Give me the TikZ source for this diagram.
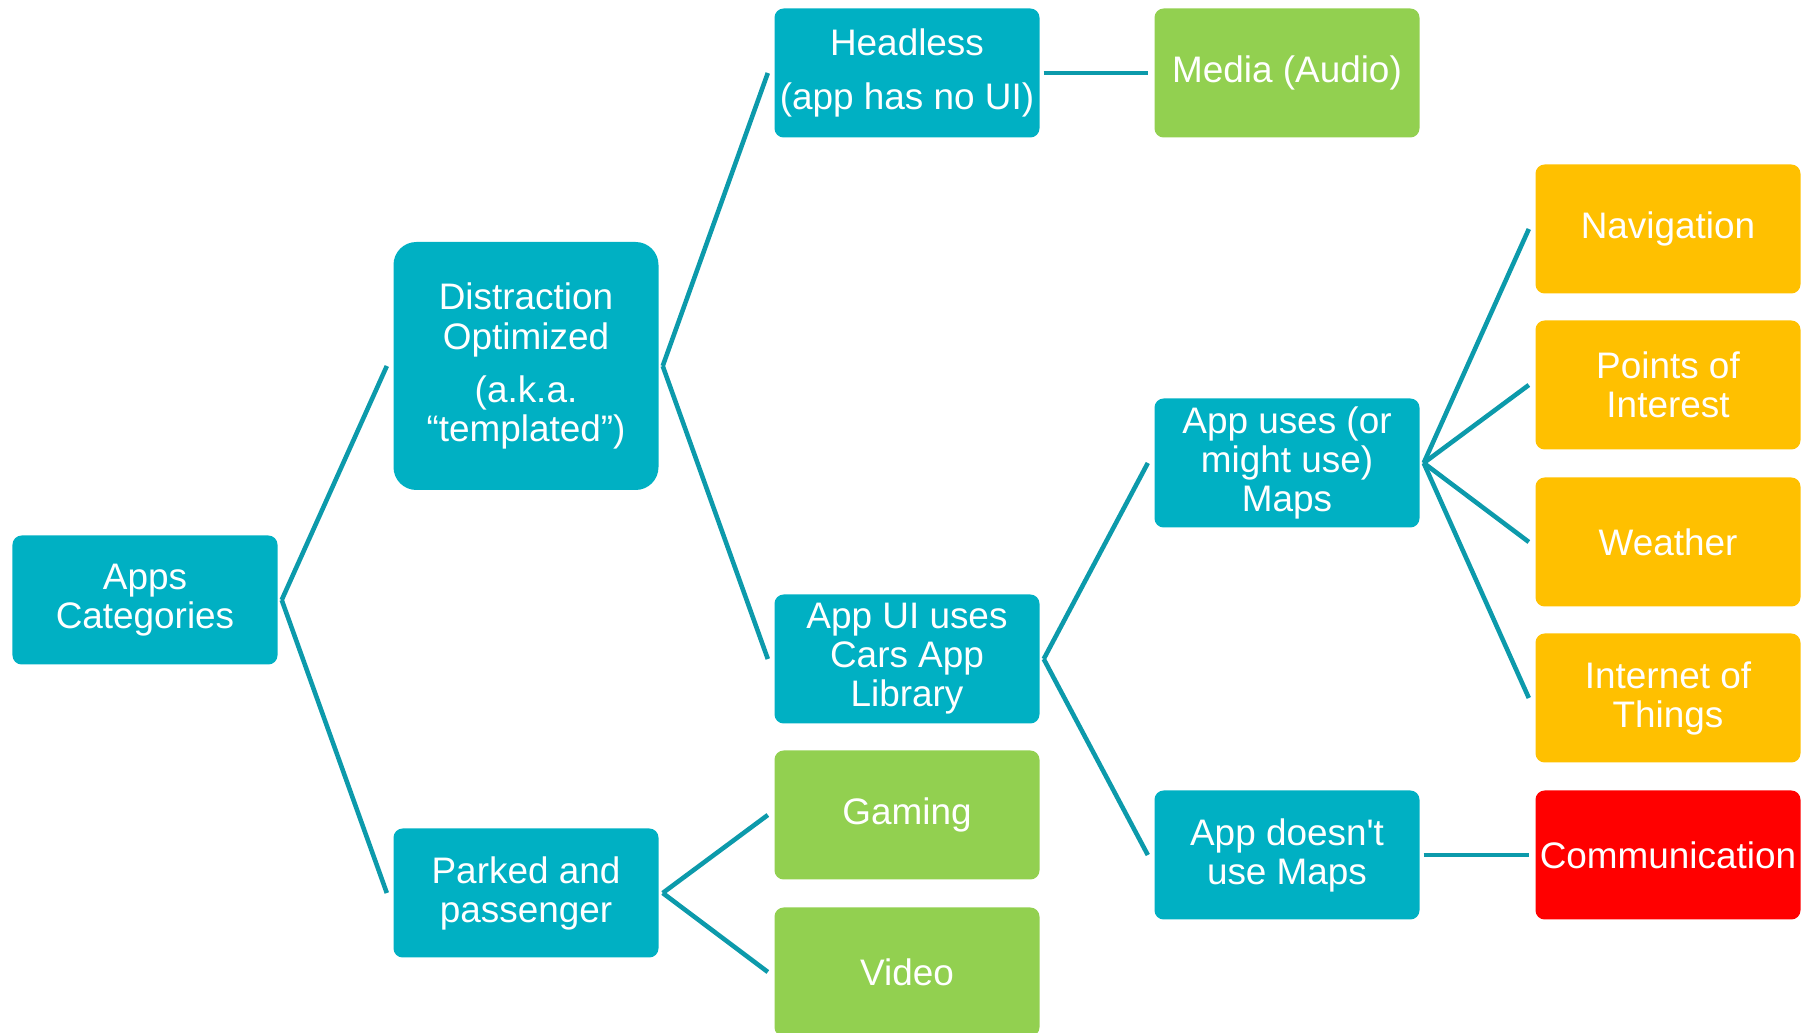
\documentclass[tikz,border=0pt]{standalone}
\usepackage{fontspec}
\setmainfont{Liberation Sans}[Ligatures=TeXOff]
\usepackage{tikz}
\definecolor{boxteal}{HTML}{00B0C3}
\definecolor{linkteal}{HTML}{0C9AAB}
\definecolor{appgreen}{HTML}{92D050}
\definecolor{apporange}{HTML}{FFC000}
\definecolor{appred}{HTML}{FF0000}
\tikzset{link/.style={linkteal, line width=1.3pt}}

\begin{document}
\begin{tikzpicture}[box/.style={rectangle, rounded corners=2.6pt, fill=boxteal, text=white, minimum width=2.65cm, minimum height=1.29cm, inner sep=0pt, align=center, font=\fontsize{10.5}{11.1}\selectfont}, green/.style={box, fill=appgreen}, orange/.style={box, fill=apporange}, red/.style={box, fill=appred}]
        \useasboundingbox (0,0) rectangle (18.06,10.33);
        \node[box] (apps) at (1.45,4.33) {Apps\\Categories};
        \node[box, rounded corners=6.5pt, minimum height=2.48cm] (distr) at (5.26,6.67) {Distraction\\Optimized\\[4pt](a.k.a.\\“templated”)};
        \node[box] (parked) at (5.26,1.40) {Parked and\\passenger};
        \node[box] (headless) at (9.07,9.60) {Headless\\[4pt](app has no UI)};
        \node[box] (appui) at (9.07,3.74) {App UI uses\\Cars App\\Library};
        \node[green] (gaming) at (9.07,2.18) {Gaming};
        \node[green] (video) at (9.07,0.61) {Video};
        \node[green] (media) at (12.87,9.60) {Media (Audio)};
        \node[box] (maps) at (12.87,5.70) {App uses (or\\might use)\\Maps};
        \node[box] (nomaps) at (12.87,1.78) {App doesn't\\use Maps};
        \node[orange] (nav) at (16.68,8.04) {Navigation};
        \node[orange] (poi) at (16.68,6.48) {Points of\\Interest};
        \node[orange] (weather) at (16.68,4.91) {Weather};
        \node[orange] (iot) at (16.68,3.35) {Internet of\\Things};
        \node[red] (comm) at (16.68,1.78) {Communication};

        % Edges - teal
        \draw[link] ([xshift=1pt]apps.east) -- ([xshift=-1.7pt]distr.west);
        \draw[link] ([xshift=1pt]apps.east) -- ([xshift=-1.7pt]parked.west);
        \draw[link] ([xshift=1pt]distr.east) -- ([xshift=-1.7pt]headless.west);
        \draw[link] ([xshift=1pt]distr.east) -- ([xshift=-1.7pt]appui.west);
        \draw[link] ([xshift=1pt]parked.east) -- ([xshift=-1.7pt]gaming.west);
        \draw[link] ([xshift=1pt]parked.east) -- ([xshift=-1.7pt]video.west);
        \draw[link] ([xshift=1pt]headless.east) -- ([xshift=-1.7pt]media.west);
        \draw[link] ([xshift=1pt]appui.east) -- ([xshift=-1.7pt]maps.west);
        \draw[link] ([xshift=1pt]appui.east) -- ([xshift=-1.7pt]nomaps.west);
        \draw[link] ([xshift=1pt]maps.east) -- ([xshift=-1.7pt]nav.west);
        \draw[link] ([xshift=1pt]maps.east) -- ([xshift=-1.7pt]poi.west);
        \draw[link] ([xshift=1pt]maps.east) -- ([xshift=-1.7pt]weather.west);
        \draw[link] ([xshift=1pt]maps.east) -- ([xshift=-1.7pt]iot.west);
        \draw[link] ([xshift=1pt]nomaps.east) -- ([xshift=-1.7pt]comm.west);
      \end{tikzpicture}
\end{document}
